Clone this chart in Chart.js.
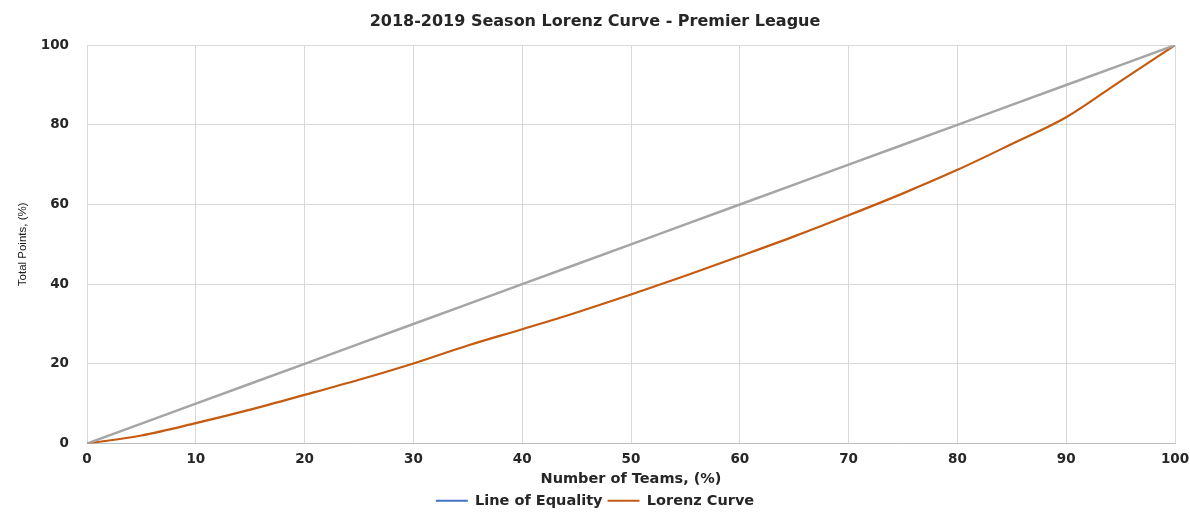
<!DOCTYPE html>
<html>
<head>
<meta charset="utf-8">
<script src="https://cdn.jsdelivr.net/npm/chart.js@4"></script>
<style>
    html, body { margin: 0; padding: 0; background: #fff; }
    #wrap { width: 1190px; height: 518px; }
</style>
</head>
<body>
<div id="wrap"><canvas id="lorenzChart"></canvas></div>
<script>
// Share of teams (%), cumulative share of points (%)
const teamShare = [0, 5, 10, 15, 20, 25, 30, 35, 40, 45, 50, 55, 60, 65, 70, 75, 80, 85, 90, 95, 100];
const equalityValues = [0, 5, 10, 15, 20, 25, 30, 35, 40, 45, 50, 55, 60, 65, 70, 75, 80, 85, 90, 95, 100];
const lorenzValues = [0, 2.0, 5.1, 8.5, 12.2, 16.0, 20.1, 24.6, 28.7, 32.9, 37.4, 42.1, 47.0, 52.0, 57.3, 62.8, 68.7, 75.2, 81.9, 91.0, 100];
const xTicks = [0, 10, 20, 30, 40, 50, 60, 70, 80, 90, 100];
const yTicks = [0, 20, 40, 60, 80, 100];

const seriesNames = ['Line of Equality', 'Lorenz Curve'];
const lineColors = ['#A5A5A5', '#C55A11'];
const legendColors = ['#4472C4', '#C55A11'];

const tickFont = { family: 'DejaVu Sans', size: 13.5, weight: 'bold' };
const labelFont = { family: 'DejaVu Sans', size: 14.5, weight: 'bold' };

function toPoints(values) {
    return teamShare.map((x, i) => ({ x: x, y: values[i] }));
}

const ctx = document.getElementById('lorenzChart');
const lorenzChart = new Chart(ctx, {
    type: 'line',
    data: {
        datasets: [{
            label: seriesNames[0],
            data: toPoints(equalityValues),
            borderColor: lineColors[0],
            borderWidth: 2.5,
            pointRadius: 0,
            tension: 0
        }, {
            label: seriesNames[1],
            data: toPoints(lorenzValues),
            borderColor: lineColors[1],
            borderWidth: 2.2,
            pointRadius: 0,
            tension: 0.4,
            cubicInterpolationMode: 'monotone'
        }]
    },
    options: {
        responsive: true,
        maintainAspectRatio: false,
        animation: false,
        layout: { padding: { left: 0, right: 0, top: 6, bottom: 0 } },
        plugins: {
            title: {
                display: true,
                text: '2018-2019 Season Lorenz Curve - Premier League',
                color: '#262626',
                font: { family: 'DejaVu Sans', size: 16, weight: 'bold' },
                padding: { top: 6, bottom: 14 }
            },
            legend: {
                position: 'bottom',
                labels: {
                    color: '#262626',
                    font: labelFont,
                    usePointStyle: true,
                    pointStyle: 'line',
                    pointStyleWidth: 32,
                    padding: 5,
                    generateLabels: chart => chart.data.datasets.map((ds, i) => ({
                        text: ds.label,
                        strokeStyle: legendColors[i],
                        fillStyle: legendColors[i],
                        lineWidth: 2,
                        pointStyle: 'line',
                        datasetIndex: i,
                        fontColor: '#262626'
                    }))
                }
            },
            tooltip: { enabled: false }
        },
        scales: {
            x: {
                type: 'linear',
                min: 0,
                max: 100,
                afterBuildTicks: scale => { scale.ticks = xTicks.map(v => ({ value: v })); },
                afterFit: scale => {
                    scale.height = 45;
                    scale.paddingRight = 15;
                },
                grid: { color: '#D9D9D9', lineWidth: 1, drawTicks: false },
                border: { color: '#BFBFBF', width: 1 },
                ticks: { color: '#262626', font: tickFont, padding: 8 },
                title: {
                    display: true,
                    text: 'Number of Teams, (%)',
                    color: '#262626',
                    font: labelFont,
                    padding: { top: 0, bottom: 1 }
                }
            },
            y: {
                min: 0,
                max: 100,
                afterBuildTicks: scale => { scale.ticks = yTicks.map(v => ({ value: v })); },
                afterFit: scale => { scale.width = 87; },
                grid: { color: '#D9D9D9', lineWidth: 1, drawTicks: false },
                border: { display: false },
                ticks: { color: '#262626', font: tickFont, padding: 18 },
                title: {
                    display: true,
                    text: 'Total Points, (%)',
                    color: '#1a1a1a',
                    font: { family: 'Liberation Sans', size: 11.5 },
                    padding: { top: 16, bottom: 0 }
                }
            }
        }
    }
});
</script>
</body>
</html>
